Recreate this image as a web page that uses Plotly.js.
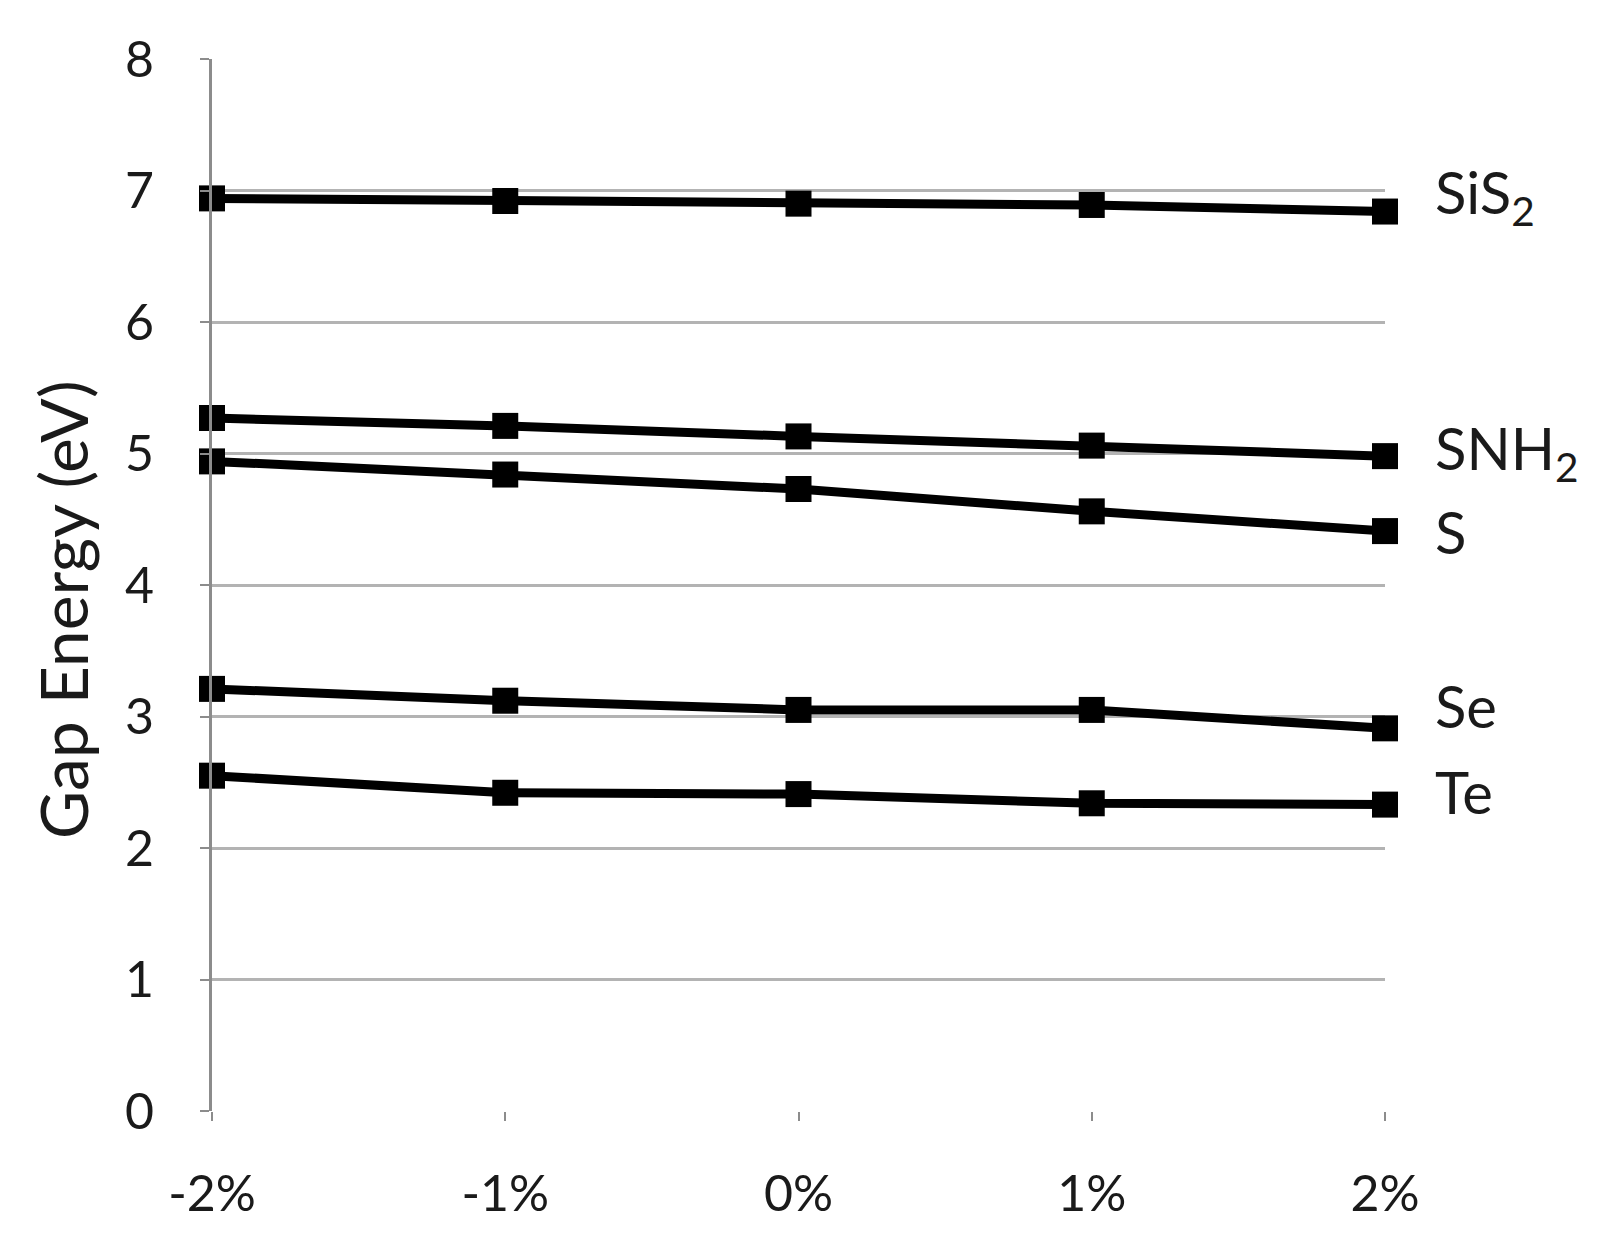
<!DOCTYPE html>
<html>
<head>
<meta charset="utf-8">
<script src="https://cdn.plot.ly/plotly-3.0.1.min.js"></script>
<style>html,body{margin:0;padding:0;background:#fff;}#chart{width:1598px;height:1240px;}</style>
</head>
<body>
<div id="chart"></div>
<script>
const strain = ['-2%', '-1%', '0%', '1%', '2%'];
const seriesNames = ['SiS<sub>2</sub>', 'SNH<sub>2</sub>', 'S', 'Se', 'Te'];
const SiS2 = [6.94, 6.92, 6.90, 6.89, 6.84];
const SNH2 = [5.27, 5.21, 5.13, 5.06, 4.98];
const S = [4.94, 4.84, 4.73, 4.56, 4.41];
const Se = [3.21, 3.12, 3.05, 3.05, 2.91];
const Te = [2.55, 2.42, 2.41, 2.34, 2.33];
const yTicks = [0, 1, 2, 3, 4, 5, 6, 7, 8];
const yTitle = 'Gap Energy (eV)';

const allSeries = [SiS2, SNH2, S, Se, Te];
const FONT = 'Lato, "Open Sans", sans-serif';
// pixel nudges for the right-hand series labels (layout only)
const labelShift = [16, 4, 0, 23, 13];

const traces = allSeries.map((vals, i) => ({
  x: strain,
  y: vals,
  name: seriesNames[i],
  type: 'scatter',
  mode: 'lines+markers',
  line: {color: '#000', width: 9},
  marker: {symbol: 'square', size: 26, color: '#000'},
  cliponaxis: false,
  showlegend: false
}));

const annotations = allSeries.map((vals, i) => ({
  x: strain[strain.length - 1],
  y: vals[vals.length - 1],
  xref: 'x', yref: 'y',
  text: seriesNames[i],
  showarrow: false,
  xanchor: 'left',
  yanchor: 'middle',
  xshift: 48,
  yshift: labelShift[i],
  font: {family: FONT, size: 58, color: '#1a1a1a'}
}));

// y-axis title placed as a rotated annotation for exact positioning
annotations.push({
  xref: 'paper', yref: 'paper',
  x: -0.128, y: 0.477,
  xanchor: 'center', yanchor: 'middle',
  textangle: -90,
  text: yTitle,
  showarrow: false,
  font: {family: FONT, size: 66, color: '#1a1a1a'}
});

const layout = {
  width: 1598,
  height: 1240,
  margin: {l: 212, r: 213, t: 59, b: 129},
  paper_bgcolor: '#fff',
  plot_bgcolor: '#fff',
  font: {family: FONT, color: '#1a1a1a'},
  xaxis: {
    type: 'category',
    range: [0, 4],
    showgrid: false,
    zeroline: false,
    showline: false,
    ticks: 'outside',
    ticklen: 9,
    tickwidth: 2,
    tickcolor: '#8c8c8c',
    ticklabelstandoff: 30,
    tickfont: {family: FONT, size: 50, color: '#1a1a1a'}
  },
  yaxis: {
    range: [0, 8],
    tickvals: yTicks,
    showgrid: true,
    gridcolor: '#b3b3b3',
    gridwidth: 3,
    zeroline: false,
    showline: true,
    linecolor: '#8c8c8c',
    linewidth: 3,
    ticks: 'outside',
    ticklen: 9,
    tickwidth: 2,
    tickcolor: '#8c8c8c',
    ticklabelstandoff: 36,
    tickfont: {family: FONT, size: 50, color: '#1a1a1a'}
  },
  annotations: annotations
};

Plotly.newPlot('chart', traces, layout, {displayModeBar: false, staticPlot: true});
</script>
</body>
</html>
